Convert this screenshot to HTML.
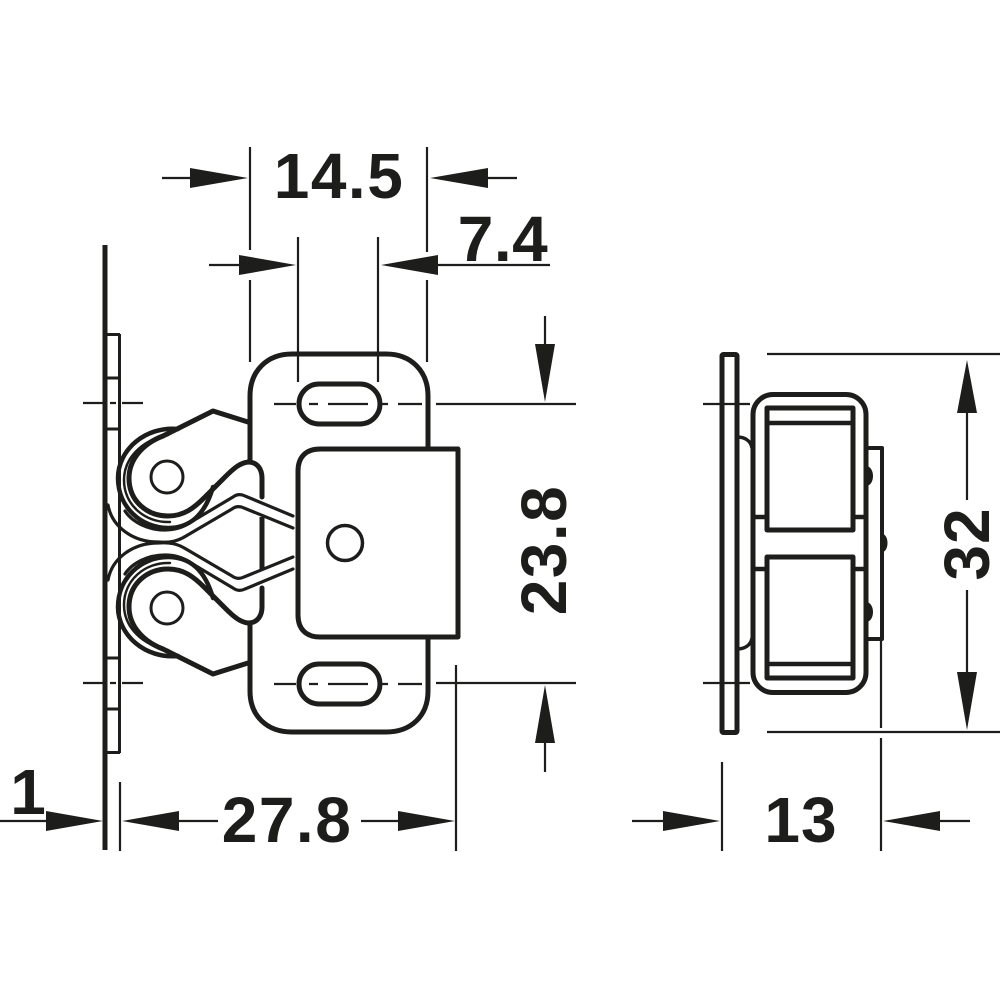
<!DOCTYPE html>
<html>
<head>
<meta charset="utf-8">
<style>
html,body{margin:0;padding:0;background:#fff;}
svg{display:block;}
text{font-family:"Liberation Sans",sans-serif;font-weight:700;fill:#1d1d1b;}
</style>
</head>
<body>
<svg width="1000" height="1000" viewBox="0 0 1000 1000" xmlns="http://www.w3.org/2000/svg">
<defs>
<g id="mech" fill="none" stroke="#1d1d1b" stroke-linecap="round" stroke-linejoin="round">
  <!-- cam -->
  <path stroke-width="5" d="M248 422 L213 411 L163 436 C142 444 129 460 129 478 C129 502 148 516 168 516 C184 516 194 508 205 497 L225 477 C234 468 240 463 248 462 C258 462 262 470 262 478 V497"/>
  <!-- roller -->
  <path stroke-width="4.500" d="M178 429 C145 426 118 450 118 478 C118 507 141 528 168 528 C190 528 205 515 213 487"/>
  <path stroke-width="2.500" d="M168 435 C142 440 124 458 124 480 C124 505 145 523 170 522"/>
  <circle cx="167" cy="477" r="16" stroke-width="3"/>
  <!-- spring -->
  <path stroke-width="3.200" d="M108 505 C112 527 133 542 158 542 C170 543 178 541 186 536 L232 509 C236 506 240 506 244 508 L293 528"/>
  <path stroke-width="3.200" d="M125 511 C132 522 148 530 165 530 C176 530 184 527 191 522 L233 497 C237 494 241 494 245 496 L293 516"/>
</g>
</defs>

<g fill="none" stroke="#1d1d1b" stroke-linecap="butt">
  <!-- base plate -->
  <path stroke-width="5" d="M105 245 V850"/>
  <path stroke-width="3" d="M119.500 334 V753 M105 334.500 H120 M105 752.500 H120 M105 378 H120 M105 429 H120 M105 658 H120 M105 709 H120"/>
  <!-- centre lines left -->
  <path stroke-width="2.200" d="M83 403 H104 M110 403 H116 M122 403 H143 M83 683 H104 M110 683 H116 M122 683 H143"/>
  <!-- main plate -->
  <path stroke-width="5" stroke-linejoin="round" d="M250 463 V396 C250 371 267 354 292 354 H386 C411 354 428 371 428 396 V449 M428 637 V691 C428 716 411 732 386 732 H292 C267 732 250 716 250 691 V625"/>
  <path stroke-width="5" d="M262 517 V570 M262 588 V608"/>
  <!-- slots -->
  <rect x="299" y="384" width="81" height="40" rx="20" stroke-width="5"/>
  <rect x="299" y="664" width="81" height="40" rx="20" stroke-width="5"/>
  <path stroke-width="2.200" d="M274 404 H296 M309 404 H318 M328 404 H368 M382 404 H388 M398 404 H422 M436 404 H576 M274 684 H296 M309 684 H318 M328 684 H368 M382 684 H388 M398 684 H422 M436 683 H576"/>
</g>
<use href="#mech"/>
<use href="#mech" transform="translate(0,1085) scale(1,-1)"/>

<g fill="none" stroke="#1d1d1b">
  <!-- cap -->
  <path stroke-width="5" stroke-linejoin="round" fill="#fff" d="M458 449 H320 C306 449 298 457 298 471 V615 C298 629 306 637 320 637 H458 Z"/>
  <circle cx="345" cy="543" r="17.500" stroke-width="3.500"/>

  <!-- right view -->
  <rect x="722" y="354.500" width="15" height="378" rx="1.500" stroke-width="5"/>
  <rect x="753" y="394.500" width="113" height="298" rx="20" stroke-width="5"/>
  <path stroke-width="5" stroke-linejoin="round" d="M767 408 H853 V530 H767 Z M767 557 H853 V678 H767 Z"/>
  <path stroke-width="4.500" d="M768 423 H852 M768 664 H852 M753 517 H767 M853 517 H866 M753 569 H767 M853 569 H866"/>
  <path stroke-width="3.500" d="M737 437 C745 437 751 441 752 448 M737 649 C745 649 751 645 752 638"/>
  <path stroke-width="4" stroke-linejoin="round" d="M867 448 H882 V639 H867"/>
  <path stroke-width="2.200" d="M703 404 H750 M703 683 H750"/>

  <!-- extension lines -->
  <path stroke-width="2.200" d="M250 147 V250 M250 280 V362 M427 147 V252 M427 280 V362 M298 237 V382 M378 237 V382 M456 665 V851 M120 782 V851 M722 762 V851 M881 640 V728 M881 738 V851 M767 354 H1000 M767 732 H1000"/>
  <!-- dimension shafts -->
  <path stroke-width="2.200" d="M162 178 H200 M478 178 H517 M209 265 H250 M430 265 H550 M545 316 V350 M545 735 V772 M0 821 H50 M170 821 H218 M361 821 H405 M632 821 H670 M930 821 H970 M967 405 V500 M967 590 V685"/>
</g>

<!-- arrowheads and rivet bumps -->
<g fill="#1d1d1b">
  <polygon points="248,178 190,168 190,188"/>
  <polygon points="430,178 488,168 488,188"/>
  <polygon points="296,265 239,255 239,275"/>
  <polygon points="381,265 438,255 438,275"/>
  <polygon points="545,402 535,344 555,344"/>
  <polygon points="545,685 535,743 555,743"/>
  <polygon points="103,821 46,811 46,831"/>
  <polygon points="122,821 179,811 179,831"/>
  <polygon points="455,821 398,811 398,831"/>
  <polygon points="720,821 663,811 663,831"/>
  <polygon points="883,821 940,811 940,831"/>
  <polygon points="967,360 957,413 977,413"/>
  <polygon points="967,730 957,672 977,672"/>
  <path d="M867 466 C875 468 875 484 867 486 Z M867 602 C875 604 875 620 867 622 Z M883 534 C889 536 889 550 883 552 Z"/>
</g>

<!-- labels -->
<text x="339" y="198" font-size="64" text-anchor="middle" letter-spacing="1.500">14.5</text>
<text x="503" y="261" font-size="64" text-anchor="middle" letter-spacing="0.500">7.4</text>
<text x="0" y="0" font-size="64" text-anchor="middle" letter-spacing="1.500" transform="translate(566,550) rotate(-90)">23.8</text>
<text x="0" y="0" font-size="64" text-anchor="middle" letter-spacing="1" transform="translate(989,544) rotate(-90)">32</text>
<text x="28" y="814" font-size="64" text-anchor="middle">1</text>
<text x="287" y="842" font-size="64" text-anchor="middle" letter-spacing="1.500">27.8</text>
<text x="801" y="842" font-size="64" text-anchor="middle" letter-spacing="1">13</text>
</svg>
</body>
</html>
